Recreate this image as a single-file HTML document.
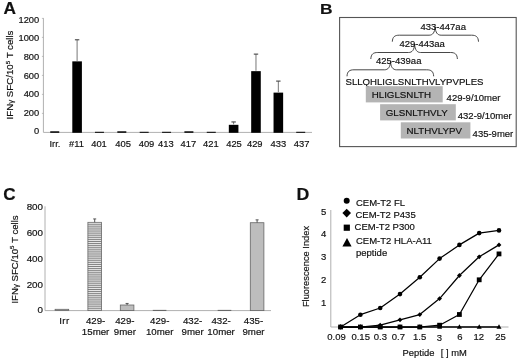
<!DOCTYPE html>
<html><head><meta charset="utf-8"><title>Figure</title>
<style>html,body{margin:0;padding:0;background:#fff;}body{width:520px;height:361px;overflow:hidden;}svg{display:block;}text{font-family:"Liberation Sans", Arial, sans-serif;fill:#111;stroke:#111;stroke-width:0.18px;}</style>
</head><body>
<svg width="520" height="361" viewBox="0 0 520 361">
<rect x="0" y="0" width="520" height="361" fill="#fff"/>
<text transform="translate(3.47,14.30) scale(1.043,1)" font-size="16.57" font-weight="bold" fill="#000">A</text>
<line x1="43.4" y1="18.3" x2="43.4" y2="132.4" stroke="#b0b0b0" stroke-width="1"/>
<line x1="43.4" y1="132.4" x2="312" y2="132.4" stroke="#b0b0b0" stroke-width="1"/>
<text x="39.2" y="134.3" font-size="9.3" text-anchor="end" font-weight="normal" >0</text>
<text x="39.2" y="115.7" font-size="9.3" text-anchor="end" font-weight="normal" >200</text>
<line x1="41.9" y1="113.40" x2="43.9" y2="113.40" stroke="#b0b0b0" stroke-width="0.8"/>
<text x="39.2" y="97.1" font-size="9.3" text-anchor="end" font-weight="normal" >400</text>
<line x1="41.9" y1="94.40" x2="43.9" y2="94.40" stroke="#b0b0b0" stroke-width="0.8"/>
<text x="39.2" y="78.5" font-size="9.3" text-anchor="end" font-weight="normal" >600</text>
<line x1="41.9" y1="75.40" x2="43.9" y2="75.40" stroke="#b0b0b0" stroke-width="0.8"/>
<text x="39.2" y="59.89999999999999" font-size="9.3" text-anchor="end" font-weight="normal" >800</text>
<line x1="41.9" y1="56.40" x2="43.9" y2="56.40" stroke="#b0b0b0" stroke-width="0.8"/>
<text x="39.2" y="41.3" font-size="9.3" text-anchor="end" font-weight="normal" >1000</text>
<line x1="41.9" y1="37.40" x2="43.9" y2="37.40" stroke="#b0b0b0" stroke-width="0.8"/>
<text x="39.2" y="22.700000000000006" font-size="9.3" text-anchor="end" font-weight="normal" >1200</text>
<line x1="41.9" y1="18.40" x2="43.9" y2="18.40" stroke="#b0b0b0" stroke-width="0.8"/>
<text transform="translate(13.0,75.0) rotate(-90)" font-size="9.7" text-anchor="middle">IFN<tspan font-size="8">γ</tspan> SFC/10<tspan font-size="6.2" dy="-3.3">5</tspan><tspan dy="3.3"> T cells</tspan></text>
<rect x="50.24" y="131.30" width="9.0" height="1.50" fill="#000"/>
<text x="54.90" y="147.2" font-size="9.4" text-anchor="middle" font-weight="normal" >Irr.</text>
<rect x="72.30" y="61.36" width="9.6" height="71.44" fill="#000"/>
<line x1="77.10" y1="60.96" x2="77.10" y2="39.78" stroke="#777" stroke-width="1"/>
<line x1="74.90" y1="39.78" x2="79.30" y2="39.78" stroke="#444" stroke-width="1.1"/>
<text x="76.50" y="147.2" font-size="9.4" text-anchor="middle" font-weight="normal" >#11</text>
<rect x="94.96" y="131.80" width="9.0" height="1.00" fill="#000"/>
<text x="99.00" y="147.2" font-size="9.4" text-anchor="middle" font-weight="normal" >401</text>
<rect x="117.32" y="131.30" width="9.0" height="1.50" fill="#000"/>
<text x="123.10" y="147.2" font-size="9.4" text-anchor="middle" font-weight="normal" >405</text>
<rect x="139.68" y="131.80" width="9.0" height="1.00" fill="#000"/>
<text x="146.50" y="147.2" font-size="9.4" text-anchor="middle" font-weight="normal" >409</text>
<rect x="162.04" y="131.80" width="9.0" height="1.00" fill="#000"/>
<text x="165.90" y="147.2" font-size="9.4" text-anchor="middle" font-weight="normal" >413</text>
<rect x="184.40" y="131.30" width="9.0" height="1.50" fill="#000"/>
<text x="188.40" y="147.2" font-size="9.4" text-anchor="middle" font-weight="normal" >417</text>
<rect x="206.76" y="131.80" width="9.0" height="1.00" fill="#000"/>
<text x="210.90" y="147.2" font-size="9.4" text-anchor="middle" font-weight="normal" >421</text>
<rect x="228.82" y="124.82" width="9.6" height="7.98" fill="#000"/>
<line x1="233.62" y1="124.42" x2="233.62" y2="121.95" stroke="#777" stroke-width="1"/>
<line x1="231.42" y1="121.95" x2="235.82" y2="121.95" stroke="#444" stroke-width="1.1"/>
<text x="234.00" y="147.2" font-size="9.4" text-anchor="middle" font-weight="normal" >425</text>
<rect x="251.18" y="71.15" width="9.6" height="61.66" fill="#000"/>
<line x1="255.98" y1="70.75" x2="255.98" y2="54.12" stroke="#777" stroke-width="1"/>
<line x1="253.78" y1="54.12" x2="258.18" y2="54.12" stroke="#444" stroke-width="1.1"/>
<text x="254.75" y="147.2" font-size="9.4" text-anchor="middle" font-weight="normal" >429</text>
<rect x="273.54" y="92.62" width="9.6" height="40.19" fill="#000"/>
<line x1="278.34" y1="92.22" x2="278.34" y2="81.10" stroke="#777" stroke-width="1"/>
<line x1="276.14" y1="81.10" x2="280.54" y2="81.10" stroke="#444" stroke-width="1.1"/>
<text x="278.40" y="147.2" font-size="9.4" text-anchor="middle" font-weight="normal" >433</text>
<rect x="296.20" y="131.80" width="9.0" height="1.00" fill="#000"/>
<text x="301.60" y="147.2" font-size="9.4" text-anchor="middle" font-weight="normal" >437</text>
<text transform="translate(319.94,14.10) scale(1.128,1)" font-size="15.41" font-weight="bold" fill="#000">B</text>
<rect x="339.6" y="17.5" width="176.6" height="129.1" fill="#fff" stroke="#555" stroke-width="1.1"/>
<path d="M392.30 41.70 C392.60 36.70 394.80 35.20 399.30 35.20 L429.10 35.20 C432.60 35.20 434.80 32.70 435.10 26.70 C435.40 32.70 437.60 35.20 441.10 35.20 L471.50 35.20 C476.00 35.20 478.20 36.70 478.50 41.70" fill="none" stroke="#333" stroke-width="0.9"/>
<path d="M370.80 59.00 C371.10 54.00 373.30 52.50 377.80 52.50 L408.60 52.50 C412.10 52.50 414.30 50.00 414.60 44.00 C414.90 50.00 417.10 52.50 420.60 52.50 L450.40 52.50 C454.90 52.50 457.10 54.00 457.40 59.00" fill="none" stroke="#333" stroke-width="0.9"/>
<path d="M347.00 76.30 C347.30 71.30 349.50 69.80 354.00 69.80 L384.50 69.80 C388.00 69.80 390.20 67.30 390.50 61.30 C390.80 67.30 393.00 69.80 396.50 69.80 L426.70 69.80 C431.20 69.80 433.40 71.30 433.70 76.30" fill="none" stroke="#333" stroke-width="0.9"/>
<text x="420.5" y="29.5" font-size="9.5" text-anchor="start" font-weight="normal" >433-447aa</text>
<text x="399.4" y="47.2" font-size="9.5" text-anchor="start" font-weight="normal" >429-443aa</text>
<text x="376.0" y="63.8" font-size="9.5" text-anchor="start" font-weight="normal" >425-439aa</text>
<text x="345.5" y="84.7" font-size="9.62" text-anchor="start" font-weight="normal" >SLLQHLIGLSNLTHVLYPVPLES</text>
<rect x="365.8" y="86.2" width="76.9" height="16.2" fill="#b4b4b4"/>
<rect x="380.1" y="104.2" width="75.7" height="16.2" fill="#b4b4b4"/>
<rect x="400.8" y="122.3" width="69.6" height="16.2" fill="#b4b4b4"/>
<text x="371.7" y="97.5" font-size="9.75" text-anchor="start" font-weight="normal" >HLIGLSNLTH</text>
<text x="385.7" y="115.9" font-size="9.75" text-anchor="start" font-weight="normal" >GLSNLTHVLY</text>
<text x="406.5" y="133.6" font-size="9.75" text-anchor="start" font-weight="normal" >NLTHVLYPV</text>
<text x="446.6" y="100.8" font-size="9.5" text-anchor="start" font-weight="normal" >429-9/10mer</text>
<text x="457.8" y="118.75" font-size="9.5" text-anchor="start" font-weight="normal" >432-9/10mer</text>
<text x="472.6" y="136.5" font-size="9.5" text-anchor="start" font-weight="normal" >435-9mer</text>
<text transform="translate(3.20,199.74) scale(1.037,1)" font-size="16.53" font-weight="bold" fill="#000">C</text>
<line x1="45.0" y1="206.3" x2="45.0" y2="310.6" stroke="#b0b0b0" stroke-width="1"/>
<line x1="45.0" y1="310.6" x2="271" y2="310.6" stroke="#b0b0b0" stroke-width="1"/>
<text x="43.0" y="313.3" font-size="9.8" text-anchor="end" font-weight="normal" >0</text>
<text x="43.0" y="288.1" font-size="9.8" text-anchor="end" font-weight="normal" >200</text>
<text x="43.0" y="262.1" font-size="9.8" text-anchor="end" font-weight="normal" >400</text>
<text x="43.0" y="236.10000000000002" font-size="9.8" text-anchor="end" font-weight="normal" >600</text>
<text x="43.0" y="210.10000000000002" font-size="9.8" text-anchor="end" font-weight="normal" >800</text>
<text transform="translate(17.6,259.5) rotate(-90)" font-size="9.6" text-anchor="middle">IFN<tspan font-size="8">γ</tspan> SFC/10<tspan font-size="6.2" dy="-3.3">5</tspan><tspan dy="3.3"> T cells</tspan></text>
<rect x="55.10" y="309.30" width="13.6" height="1.30" fill="#bdbdbd" stroke="#666" stroke-width="0.8"/>
<text x="64.50" y="324.0" font-size="9.7" text-anchor="middle" font-weight="normal" letter-spacing="0.5">Irr</text>
<rect x="87.90" y="222.33" width="13.6" height="88.27" fill="#f2f2f2" stroke="#666" stroke-width="0.8"/>
<line x1="87.90" y1="224.25" x2="101.50" y2="224.25" stroke="#6a6a6a" stroke-width="0.85"/>
<line x1="87.90" y1="226.17" x2="101.50" y2="226.17" stroke="#6a6a6a" stroke-width="0.85"/>
<line x1="87.90" y1="228.09" x2="101.50" y2="228.09" stroke="#6a6a6a" stroke-width="0.85"/>
<line x1="87.90" y1="230.01" x2="101.50" y2="230.01" stroke="#6a6a6a" stroke-width="0.85"/>
<line x1="87.90" y1="231.93" x2="101.50" y2="231.93" stroke="#6a6a6a" stroke-width="0.85"/>
<line x1="87.90" y1="233.85" x2="101.50" y2="233.85" stroke="#6a6a6a" stroke-width="0.85"/>
<line x1="87.90" y1="235.77" x2="101.50" y2="235.77" stroke="#6a6a6a" stroke-width="0.85"/>
<line x1="87.90" y1="237.69" x2="101.50" y2="237.69" stroke="#6a6a6a" stroke-width="0.85"/>
<line x1="87.90" y1="239.61" x2="101.50" y2="239.61" stroke="#6a6a6a" stroke-width="0.85"/>
<line x1="87.90" y1="241.53" x2="101.50" y2="241.53" stroke="#6a6a6a" stroke-width="0.85"/>
<line x1="87.90" y1="243.45" x2="101.50" y2="243.45" stroke="#6a6a6a" stroke-width="0.85"/>
<line x1="87.90" y1="245.37" x2="101.50" y2="245.37" stroke="#6a6a6a" stroke-width="0.85"/>
<line x1="87.90" y1="247.29" x2="101.50" y2="247.29" stroke="#6a6a6a" stroke-width="0.85"/>
<line x1="87.90" y1="249.21" x2="101.50" y2="249.21" stroke="#6a6a6a" stroke-width="0.85"/>
<line x1="87.90" y1="251.13" x2="101.50" y2="251.13" stroke="#6a6a6a" stroke-width="0.85"/>
<line x1="87.90" y1="253.05" x2="101.50" y2="253.05" stroke="#6a6a6a" stroke-width="0.85"/>
<line x1="87.90" y1="254.97" x2="101.50" y2="254.97" stroke="#6a6a6a" stroke-width="0.85"/>
<line x1="87.90" y1="256.89" x2="101.50" y2="256.89" stroke="#6a6a6a" stroke-width="0.85"/>
<line x1="87.90" y1="258.81" x2="101.50" y2="258.81" stroke="#6a6a6a" stroke-width="0.85"/>
<line x1="87.90" y1="260.73" x2="101.50" y2="260.73" stroke="#6a6a6a" stroke-width="0.85"/>
<line x1="87.90" y1="262.65" x2="101.50" y2="262.65" stroke="#6a6a6a" stroke-width="0.85"/>
<line x1="87.90" y1="264.57" x2="101.50" y2="264.57" stroke="#6a6a6a" stroke-width="0.85"/>
<line x1="87.90" y1="266.49" x2="101.50" y2="266.49" stroke="#6a6a6a" stroke-width="0.85"/>
<line x1="87.90" y1="268.41" x2="101.50" y2="268.41" stroke="#6a6a6a" stroke-width="0.85"/>
<line x1="87.90" y1="270.33" x2="101.50" y2="270.33" stroke="#6a6a6a" stroke-width="0.85"/>
<line x1="87.90" y1="272.25" x2="101.50" y2="272.25" stroke="#6a6a6a" stroke-width="0.85"/>
<line x1="87.90" y1="274.17" x2="101.50" y2="274.17" stroke="#6a6a6a" stroke-width="0.85"/>
<line x1="87.90" y1="276.09" x2="101.50" y2="276.09" stroke="#6a6a6a" stroke-width="0.85"/>
<line x1="87.90" y1="278.01" x2="101.50" y2="278.01" stroke="#6a6a6a" stroke-width="0.85"/>
<line x1="87.90" y1="279.93" x2="101.50" y2="279.93" stroke="#6a6a6a" stroke-width="0.85"/>
<line x1="87.90" y1="281.85" x2="101.50" y2="281.85" stroke="#6a6a6a" stroke-width="0.85"/>
<line x1="87.90" y1="283.77" x2="101.50" y2="283.77" stroke="#6a6a6a" stroke-width="0.85"/>
<line x1="87.90" y1="285.69" x2="101.50" y2="285.69" stroke="#6a6a6a" stroke-width="0.85"/>
<line x1="87.90" y1="287.61" x2="101.50" y2="287.61" stroke="#6a6a6a" stroke-width="0.85"/>
<line x1="87.90" y1="289.53" x2="101.50" y2="289.53" stroke="#6a6a6a" stroke-width="0.85"/>
<line x1="87.90" y1="291.45" x2="101.50" y2="291.45" stroke="#6a6a6a" stroke-width="0.85"/>
<line x1="87.90" y1="293.37" x2="101.50" y2="293.37" stroke="#6a6a6a" stroke-width="0.85"/>
<line x1="87.90" y1="295.29" x2="101.50" y2="295.29" stroke="#6a6a6a" stroke-width="0.85"/>
<line x1="87.90" y1="297.21" x2="101.50" y2="297.21" stroke="#6a6a6a" stroke-width="0.85"/>
<line x1="87.90" y1="299.13" x2="101.50" y2="299.13" stroke="#6a6a6a" stroke-width="0.85"/>
<line x1="87.90" y1="301.05" x2="101.50" y2="301.05" stroke="#6a6a6a" stroke-width="0.85"/>
<line x1="87.90" y1="302.97" x2="101.50" y2="302.97" stroke="#6a6a6a" stroke-width="0.85"/>
<line x1="87.90" y1="304.89" x2="101.50" y2="304.89" stroke="#6a6a6a" stroke-width="0.85"/>
<line x1="87.90" y1="306.81" x2="101.50" y2="306.81" stroke="#6a6a6a" stroke-width="0.85"/>
<line x1="87.90" y1="308.73" x2="101.50" y2="308.73" stroke="#6a6a6a" stroke-width="0.85"/>
<line x1="94.70" y1="222.33" x2="94.70" y2="218.95" stroke="#555" stroke-width="1"/>
<line x1="93.20" y1="218.95" x2="96.20" y2="218.95" stroke="#555" stroke-width="1"/>
<text x="95.60" y="324.0" font-size="9.7" text-anchor="middle" font-weight="normal" >429-</text>
<text x="95.60" y="335.2" font-size="9.7" text-anchor="middle" font-weight="normal" >15mer</text>
<rect x="120.30" y="305.01" width="13.6" height="5.59" fill="#bdbdbd" stroke="#666" stroke-width="0.8"/>
<line x1="127.10" y1="305.01" x2="127.10" y2="303.45" stroke="#555" stroke-width="1"/>
<line x1="125.60" y1="303.45" x2="128.60" y2="303.45" stroke="#555" stroke-width="1"/>
<text x="124.90" y="324.0" font-size="9.7" text-anchor="middle" font-weight="normal" >429-</text>
<text x="124.90" y="335.2" font-size="9.7" text-anchor="middle" font-weight="normal" >9mer</text>
<rect x="152.80" y="309.90" width="13.6" height="0.90" fill="#555"/>
<text x="159.70" y="324.0" font-size="9.7" text-anchor="middle" font-weight="normal" >429-</text>
<text x="159.70" y="335.2" font-size="9.7" text-anchor="middle" font-weight="normal" >10mer</text>
<text x="192.60" y="324.0" font-size="9.7" text-anchor="middle" font-weight="normal" >432-</text>
<text x="192.60" y="335.2" font-size="9.7" text-anchor="middle" font-weight="normal" >9mer</text>
<rect x="217.70" y="309.90" width="13.6" height="0.90" fill="#555"/>
<text x="221.10" y="324.0" font-size="9.7" text-anchor="middle" font-weight="normal" >432-</text>
<text x="221.10" y="335.2" font-size="9.7" text-anchor="middle" font-weight="normal" >10mer</text>
<rect x="250.30" y="222.72" width="13.6" height="87.88" fill="#bdbdbd" stroke="#666" stroke-width="0.8"/>
<line x1="257.10" y1="222.72" x2="257.10" y2="219.86" stroke="#555" stroke-width="1"/>
<line x1="255.60" y1="219.86" x2="258.60" y2="219.86" stroke="#555" stroke-width="1"/>
<text x="253.50" y="324.0" font-size="9.7" text-anchor="middle" font-weight="normal" >435-</text>
<text x="253.50" y="335.2" font-size="9.7" text-anchor="middle" font-weight="normal" >9mer</text>
<text transform="translate(296.61,200.20) scale(1.122,1)" font-size="15.84" font-weight="bold" fill="#000">D</text>
<line x1="330.8" y1="210" x2="330.8" y2="327.0" stroke="#b0b0b0" stroke-width="1"/>
<line x1="330.8" y1="327.0" x2="508.5" y2="327.0" stroke="#b0b0b0" stroke-width="1"/>
<text x="326.3" y="214.8" font-size="9.5" text-anchor="end" font-weight="normal" >5</text>
<text x="326.3" y="237.4" font-size="9.5" text-anchor="end" font-weight="normal" >4</text>
<text x="326.3" y="260.09999999999997" font-size="9.5" text-anchor="end" font-weight="normal" >3</text>
<text x="326.3" y="282.79999999999995" font-size="9.5" text-anchor="end" font-weight="normal" >2</text>
<text x="326.3" y="305.59999999999997" font-size="9.5" text-anchor="end" font-weight="normal" >1</text>
<text transform="translate(308.6,266.5) rotate(-90)" font-size="9.3" text-anchor="middle">Fluorescence Index</text>
<text x="336.50" y="340.3" font-size="9.5" text-anchor="middle" font-weight="normal" >0.09</text>
<text x="360.70" y="340.3" font-size="9.5" text-anchor="middle" font-weight="normal" >0.15</text>
<text x="380.40" y="340.3" font-size="9.5" text-anchor="middle" font-weight="normal" >0.3</text>
<text x="398.40" y="340.3" font-size="9.5" text-anchor="middle" font-weight="normal" >0.7</text>
<text x="419.60" y="340.3" font-size="9.5" text-anchor="middle" font-weight="normal" >1.5</text>
<text x="439.50" y="341.1" font-size="9.5" text-anchor="middle" font-weight="normal" >3</text>
<text x="459.80" y="340.3" font-size="9.5" text-anchor="middle" font-weight="normal" >6</text>
<text x="478.80" y="340.3" font-size="9.5" text-anchor="middle" font-weight="normal" >12</text>
<text x="500.50" y="340.3" font-size="9.5" text-anchor="middle" font-weight="normal" >25</text>
<text x="402.6" y="355.6" font-size="9.4" text-anchor="start" font-weight="normal" >Peptide</text>
<text x="440.8" y="355.6" font-size="9.4" text-anchor="start" font-weight="normal" >[ ] mM</text>
<polyline points="340.60,327.00 360.40,327.00 380.20,327.00 400.00,327.00 419.80,327.00 439.60,327.00 459.40,327.00 479.20,327.00 499.00,327.00" fill="none" stroke="#000" stroke-width="1.45" stroke-linejoin="round"/>
<polygon points="340.60,324.20 338.10,328.80 343.10,328.80" fill="#000"/>
<polygon points="360.40,324.20 357.90,328.80 362.90,328.80" fill="#000"/>
<polygon points="380.20,324.20 377.70,328.80 382.70,328.80" fill="#000"/>
<polygon points="400.00,324.20 397.50,328.80 402.50,328.80" fill="#000"/>
<polygon points="419.80,324.20 417.30,328.80 422.30,328.80" fill="#000"/>
<polygon points="439.60,324.20 437.10,328.80 442.10,328.80" fill="#000"/>
<polygon points="459.40,324.20 456.90,328.80 461.90,328.80" fill="#000"/>
<polygon points="479.20,324.20 476.70,328.80 481.70,328.80" fill="#000"/>
<polygon points="499.00,324.20 496.50,328.80 501.50,328.80" fill="#000"/>
<polyline points="340.60,327.00 360.40,327.00 380.20,327.00 400.00,327.00 419.80,327.00 439.60,325.20 459.40,314.50 479.20,279.80 499.00,253.90" fill="none" stroke="#000" stroke-width="1.25" stroke-linejoin="round"/>
<rect x="338.20" y="324.60" width="4.8" height="4.8" fill="#000"/>
<rect x="358.00" y="324.60" width="4.8" height="4.8" fill="#000"/>
<rect x="377.80" y="324.60" width="4.8" height="4.8" fill="#000"/>
<rect x="397.60" y="324.60" width="4.8" height="4.8" fill="#000"/>
<rect x="417.40" y="324.60" width="4.8" height="4.8" fill="#000"/>
<rect x="437.20" y="322.80" width="4.8" height="4.8" fill="#000"/>
<rect x="457.00" y="312.10" width="4.8" height="4.8" fill="#000"/>
<rect x="476.80" y="277.40" width="4.8" height="4.8" fill="#000"/>
<rect x="496.60" y="251.50" width="4.8" height="4.8" fill="#000"/>
<polyline points="340.60,327.00 360.40,327.00 380.20,325.20 400.00,319.80 419.80,314.60 439.60,298.60 459.40,275.50 479.20,256.80 499.00,244.90" fill="none" stroke="#000" stroke-width="1.25" stroke-linejoin="round"/>
<polygon points="340.60,324.60 343.00,327.00 340.60,329.40 338.20,327.00" fill="#000"/>
<polygon points="360.40,324.60 362.80,327.00 360.40,329.40 358.00,327.00" fill="#000"/>
<polygon points="380.20,322.80 382.60,325.20 380.20,327.60 377.80,325.20" fill="#000"/>
<polygon points="400.00,317.40 402.40,319.80 400.00,322.20 397.60,319.80" fill="#000"/>
<polygon points="419.80,312.20 422.20,314.60 419.80,317.00 417.40,314.60" fill="#000"/>
<polygon points="439.60,296.20 442.00,298.60 439.60,301.00 437.20,298.60" fill="#000"/>
<polygon points="459.40,273.10 461.80,275.50 459.40,277.90 457.00,275.50" fill="#000"/>
<polygon points="479.20,254.40 481.60,256.80 479.20,259.20 476.80,256.80" fill="#000"/>
<polygon points="499.00,242.50 501.40,244.90 499.00,247.30 496.60,244.90" fill="#000"/>
<polyline points="340.60,327.00 360.40,314.70 380.20,308.00 400.00,294.10 419.80,277.30 439.60,258.60 459.40,244.90 479.20,233.10 499.00,230.40" fill="none" stroke="#000" stroke-width="1.25" stroke-linejoin="round"/>
<circle cx="340.60" cy="327.00" r="2.3" fill="#000"/>
<circle cx="360.40" cy="314.70" r="2.3" fill="#000"/>
<circle cx="380.20" cy="308.00" r="2.3" fill="#000"/>
<circle cx="400.00" cy="294.10" r="2.3" fill="#000"/>
<circle cx="419.80" cy="277.30" r="2.3" fill="#000"/>
<circle cx="439.60" cy="258.60" r="2.3" fill="#000"/>
<circle cx="459.40" cy="244.90" r="2.3" fill="#000"/>
<circle cx="479.20" cy="233.10" r="2.3" fill="#000"/>
<circle cx="499.00" cy="230.40" r="2.3" fill="#000"/>
<circle cx="346.7" cy="200.8" r="3.0" fill="#000"/>
<polygon points="346.7,208.8 351,213.1 346.7,217.4 342.4,213.1" fill="#000"/>
<rect x="343.7" y="224.6" width="6.2" height="6.2" fill="#000"/>
<polygon points="347,238.0 351.6,246.5 342.4,246.5" fill="#000"/>
<text x="356" y="205.6" font-size="9.5" text-anchor="start" font-weight="normal" >CEM-T2 FL</text>
<text x="355.5" y="217.7" font-size="9.5" text-anchor="start" font-weight="normal" >CEM-T2 P435</text>
<text x="354.6" y="230.1" font-size="9.5" text-anchor="start" font-weight="normal" >CEM-T2 P300</text>
<text x="356" y="243.7" font-size="9.5" text-anchor="start" font-weight="normal" >CEM-T2 HLA-A11</text>
<text x="356" y="255.7" font-size="9.5" text-anchor="start" font-weight="normal" >peptide</text>
</svg></body></html>
